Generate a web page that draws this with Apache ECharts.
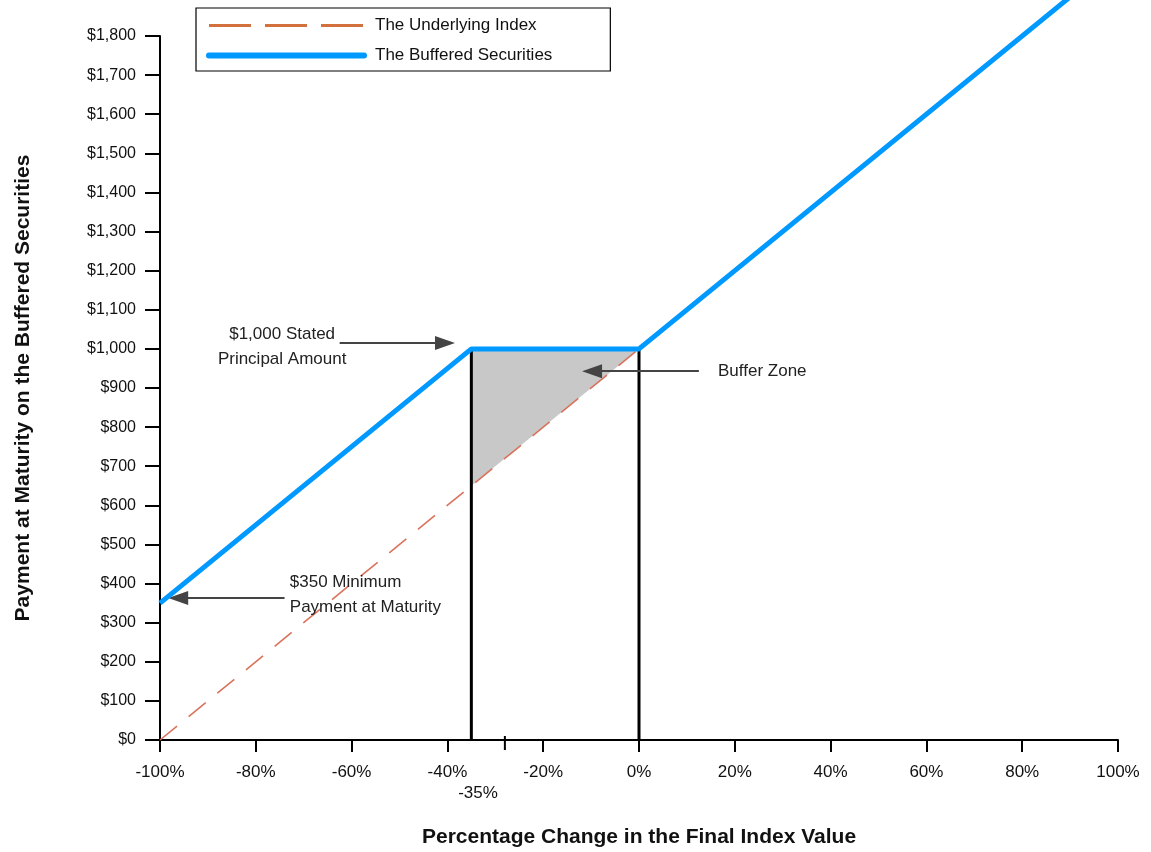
<!DOCTYPE html>
<html>
<head>
<meta charset="utf-8">
<script src="https://cdn.jsdelivr.net/npm/echarts@6/dist/echarts.min.js"></script>
<style>
html,body{margin:0;padding:0;background:#fff;}
#c{width:1151px;height:852px;}
</style>
</head>
<body>
<div id="c"></div>
<script>
// ---- data ----
var seriesNames = ['The Underlying Index', 'The Buffered Securities'];
var underlyingIndex = [[-100, 0], [0, 1000]];
var bufferedSecurities = [[-100, 350], [-35, 1000], [0, 1000], [90, 1900]];
var bufferZone = [[-35, 650], [-35, 1000], [0, 1000]];
var bufferLineLow = [[-35, 0], [-35, 1000]];
var bufferLineZero = [[0, 0], [0, 1000]];
var xTicks = { min: -100, max: 100, step: 20 };
var yTicks = { min: 0, max: 1800, step: 100 };
var annotations = [
  { text: '$1,000 Stated\nPrincipal Amount', at: [-74.5, 1005], align: 'center' },
  { text: 'Buffer Zone', at: [16.5, 943], align: 'left' },
  { text: '$350 Minimum\nPayment at Maturity', at: [-72.9, 371], align: 'left' }
];
var arrows = [
  { from: [-62.5, 1015], to: [-40.5, 1015] },
  { from: [12.5, 943], to: [-9.8, 943] },
  { from: [-74, 363], to: [-96.2, 363] }
];
var bufferLabel = { text: '-35%', at: [-33.6, 0] };
var extraTick = [-28, 0];

var fontFam = '"Liberation Sans", Arial, sans-serif';
var clear = 'rgba(0,0,0,0)';

var chart = echarts.init(document.getElementById('c'));

var option = {
  animation: false,
  backgroundColor: '#fff',
  textStyle: { fontFamily: fontFam },
  grid: { left: 160, right: 33, top: 36, bottom: 112, containLabel: false, outerBoundsMode: 'none' },
  legend: {
    orient: 'vertical',
    left: 196,
    top: 8,
    borderColor: '#000',
    borderWidth: 1.2,
    padding: [9, 58, 7, 10],
    itemWidth: 155,
    itemHeight: 14,
    itemGap: 13,
    itemStyle: { color: clear, borderColor: clear, borderWidth: 0, opacity: 0 },
    textStyle: { fontSize: 17, color: '#111', fontFamily: fontFam, padding: [0, 0, 0, 6] },
    data: [
      { name: seriesNames[0], lineStyle: { color: '#d2703e', width: 3, type: [42, 14] } },
      { name: seriesNames[1], lineStyle: { color: '#0099ff', width: 6, cap: 'round' } }
    ]
  },
  xAxis: {
    type: 'value',
    min: xTicks.min,
    max: xTicks.max,
    interval: xTicks.step,
    name: 'Percentage Change in the Final Index Value',
    nameLocation: 'middle',
    nameGap: 87,
    nameTextStyle: { fontSize: 21, fontWeight: 'bold', color: '#111', fontFamily: fontFam },
    axisLine: { onZero: false, lineStyle: { color: '#000', width: 2 } },
    axisTick: { show: true, length: 12, lineStyle: { color: '#000', width: 2 } },
    axisLabel: { margin: 24, fontSize: 17, color: '#111', formatter: function (v) { return v + '%'; } },
    splitLine: { show: false }
  },
  yAxis: {
    type: 'value',
    min: yTicks.min,
    max: yTicks.max,
    interval: yTicks.step,
    name: 'Payment at Maturity on the Buffered Securities',
    nameLocation: 'middle',
    nameGap: 126,
    nameTextStyle: { fontSize: 21, fontWeight: 'bold', color: '#111', fontFamily: fontFam },
    axisLine: { show: true, onZero: false, lineStyle: { color: '#000', width: 2 } },
    axisTick: { show: true, length: 15, lineStyle: { color: '#000', width: 2 } },
    axisLabel: {
      margin: 24, fontSize: 16, color: '#111',
      formatter: function (v) { return '$' + String(v).replace(/\B(?=(\d{3})+(?!\d))/g, ','); }
    },
    splitLine: { show: false }
  },
  series: [
    {
      name: 'zone',
      type: 'custom',
      z: 1,
      silent: true,
      data: [0],
      renderItem: function (params, api) {
        var pts = bufferZone.map(function (p) { return api.coord(p); });
        return { type: 'polygon', shape: { points: pts }, style: { fill: '#c8c8c8' } };
      }
    },
    {
      name: seriesNames[0],
      type: 'line',
      z: 3,
      data: underlyingIndex,
      symbol: 'none',
      lineStyle: { color: '#d9735c', width: 1.6, type: [22, 15] }
    },
    {
      name: 'v1',
      type: 'line',
      z: 4,
      data: bufferLineLow,
      symbol: 'none',
      lineStyle: { color: '#000', width: 3 }
    },
    {
      name: 'v2',
      type: 'line',
      z: 4,
      data: bufferLineZero,
      symbol: 'none',
      lineStyle: { color: '#000', width: 3 }
    },
    {
      name: seriesNames[1],
      type: 'line',
      z: 6,
      clip: false,
      data: bufferedSecurities,
      symbol: 'none',
      lineStyle: { color: '#0099ff', width: 5, join: 'round' },
      markLine: {
        silent: true,
        symbol: ['none', 'triangle'],
        symbolSize: [14, 20],
        label: { show: false },
        lineStyle: { color: '#444', width: 2, type: 'solid' },
        emphasis: { disabled: true },
        data: arrows.map(function (a) { return [{ coord: a.from }, { coord: a.to }]; })
      },
      markPoint: {
        silent: true,
        data: annotations.map(function (a) {
          return {
            coord: a.at,
            symbol: 'circle',
            symbolSize: 0,
            label: {
              show: true,
              position: 'inside',
              formatter: a.text,
              align: a.align,
              verticalAlign: 'middle',
              fontSize: 17,
              lineHeight: 25,
              color: '#222',
              fontFamily: fontFam
            }
          };
        }).concat([
          {
            coord: bufferLabel.at,
            symbol: 'circle',
            symbolSize: 0,
            label: {
              show: true, position: 'inside', formatter: bufferLabel.text,
              offset: [0, 53], fontSize: 17, color: '#111', fontFamily: fontFam
            }
          },
          {
            coord: extraTick,
            symbol: 'rect',
            symbolSize: [2, 14],
            symbolOffset: [0, 3],
            itemStyle: { color: '#000' },
            label: { show: false }
          }
        ])
      }
    }
  ]
};

chart.setOption(option);
</script>
</body>
</html>
